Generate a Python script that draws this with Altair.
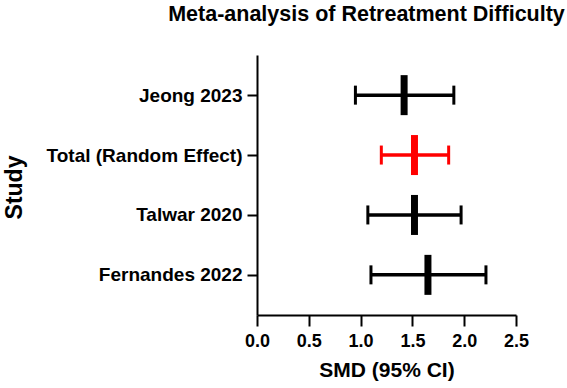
import altair as alt
import pandas as pd

studies = ["Jeong 2023", "Total (Random Effect)", "Talwar 2020", "Fernandes 2022"]
smd = [1.42, 1.52, 1.52, 1.65]
lower = [0.95, 1.20, 1.07, 1.10]
upper = [1.90, 1.85, 1.97, 2.21]
colors = ["black", "red", "black", "black"]
x_ticks = [0.0, 0.5, 1.0, 1.5, 2.0, 2.5]

df = pd.DataFrame({"study": studies, "smd": smd, "lower": lower,
                   "upper": upper, "color": colors})

FONT = "Liberation Sans"

y_enc = alt.Y("study:N", sort=studies,
              scale=alt.Scale(type="point", padding=0.67),
              axis=alt.Axis(title="Study", titleFont=FONT, titleFontSize=23,
                            titleFontWeight="bold", titleColor="black",
                            titleAngle=-90, titleX=-236, titleY=132,
                            titleAlign="center", titleBaseline="alphabetic",
                            labelFont=FONT, labelFontSize=19, labelFontWeight="bold",
                            labelColor="black", labelPadding=5, labelLimit=0,
                            tickSize=10, tickWidth=2, tickColor="black",
                            domainWidth=2, domainColor="black", grid=False))

x_scale = alt.Scale(domain=[0, 2.5], nice=False, zero=False)
x_axis = alt.Axis(title="SMD (95% CI)", values=x_ticks, format=".1f",
                  titleFont=FONT, titleFontSize=21, titleFontWeight="bold",
                  titleColor="black", titlePadding=9,
                  labelFont=FONT, labelFontSize=18, labelFontWeight="bold",
                  labelColor="black", labelPadding=6,
                  labelFlush=False, labelAlign="center", labelOverlap=False,
                  tickSize=11, tickWidth=2, tickColor="black",
                  domainWidth=2, domainColor="black", grid=False)

color_enc = alt.Color("color:N", scale=None)

base = alt.Chart(df)

rule = base.mark_rule(strokeWidth=3.5, opacity=1).encode(
    x=alt.X("lower:Q", scale=x_scale, axis=x_axis),
    x2="upper:Q",
    y=y_enc,
    color=color_enc,
)
cap_lo = base.mark_tick(size=19, thickness=3, opacity=1).encode(
    x=alt.X("lower:Q", scale=x_scale), y=alt.Y("study:N", sort=studies), color=color_enc)
cap_hi = base.mark_tick(size=19, thickness=3, opacity=1).encode(
    x=alt.X("upper:Q", scale=x_scale), y=alt.Y("study:N", sort=studies), color=color_enc)
mean = base.mark_tick(size=40, thickness=7, opacity=1).encode(
    x=alt.X("smd:Q", scale=x_scale), y=alt.Y("study:N", sort=studies), color=color_enc)

chart = alt.layer(rule, cap_lo, cap_hi, mean).properties(
    width=259, height=260,
    title=alt.TitleParams("Meta-analysis of Retreatment Difficulty",
                          font=FONT, fontSize=21.5, fontWeight="bold",
                          color="black", anchor="middle", dx=-20, offset=30),
    autosize=alt.AutoSizeParams(type="none"),
    padding={"left": 257, "top": 55, "right": 51, "bottom": 73},
).configure(background="white", view=alt.ViewConfig(stroke=None))

chart.save("out.html", embed_options={"renderer": "svg", "actions": False})
